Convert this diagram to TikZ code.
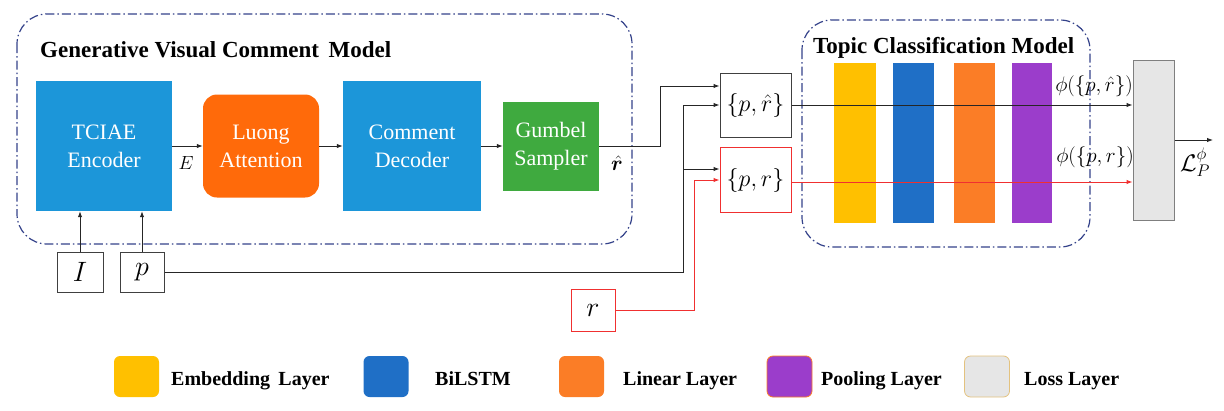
\RequirePackage{fix-cm}
\documentclass[tikz,border=0pt]{standalone}
\usepackage{fontspec}
\setmainfont{Liberation Serif}
\usepackage{bm}
\usetikzlibrary{arrows.meta,calc}
\definecolor{encblue}{HTML}{1C96D9}
\definecolor{luongor}{HTML}{FF6A0A}
\definecolor{gumgreen}{HTML}{3FAA3F}
\definecolor{navy}{HTML}{34428A}
\definecolor{embyel}{HTML}{FFC000}
\definecolor{lstmblue}{HTML}{1F6FC6}
\definecolor{linor}{HTML}{FB7D26}
\definecolor{poolpur}{HTML}{9B3DCB}
\definecolor{lossgray}{HTML}{E6E6E6}
\definecolor{lossedge}{HTML}{7F7F7F}
\definecolor{legedge}{HTML}{E3C27F}
\definecolor{redline}{HTML}{F03030}
\tikzset{
  mainbox/.style={inner sep=0pt, align=center, text=white, font=\fontsize{22}{28}\selectfont},
  dashbox/.style={draw=navy, line width=1.2pt, rounded corners=30pt,
    dash pattern=on 9pt off 3pt on 1.5pt off 3pt},
  title/.style={inner sep=0pt, font=\fontsize{23}{28}\selectfont\bfseries},
  inbox/.style={draw=black!75, line width=1pt, inner sep=0pt, font=\fontsize{28}{32}\selectfont},
  pairbox/.style={draw=black!75, line width=1pt, inner sep=0pt, font=\fontsize{24}{28}\selectfont},
  bar/.style={inner sep=0pt, minimum height=160pt},
  arr/.style={draw=black!85, line width=1pt, -{Latex[length=6pt,width=4.5pt]}},
  redarr/.style={draw=redline, line width=1pt, -{Latex[length=6pt,width=4.5pt]}},
  lbl/.style={inner sep=0pt, font=\fontsize{21}{24}\selectfont},
  legsq/.style={inner sep=0pt, minimum width=45pt, minimum height=41pt, rounded corners=6pt, line width=0.8pt},
  legtxt/.style={inner sep=0pt, anchor=base west, font=\fontsize{20}{24}\selectfont\bfseries}
}
\begin{document}
\begin{tikzpicture}[x=1pt,y=-1pt]
\useasboundingbox (0,0) rectangle (1224,410);

% dashed frames
\draw[dashbox] (17,14) rectangle (632,244);
\draw[dashbox] (802,20) rectangle (1090,247);
\node[title, anchor=base west] (gtitle) at (40,57) {Generative Visual Comment\ \,Model};
\node[title, anchor=base west] (ttitle) at (813,53) {Topic Classification Model};

% generator blocks
\node[mainbox, fill=encblue, minimum width=136pt, minimum height=130pt] (enc) at (104,146) {TCIAE\\Encoder};
\node[mainbox, fill=luongor, minimum width=116pt, minimum height=103pt, rounded corners=14pt] (luong) at (261,146) {Luong\\Attention};
\node[mainbox, fill=encblue, minimum width=138pt, minimum height=130pt] (dec) at (412,146) {Comment\\Decoder};
\node[mainbox, fill=gumgreen, minimum width=96pt, minimum height=89pt] (gum) at (551,146) {Gumbel\\Sampler};
\node[lbl, font=\fontsize{19}{22}\selectfont] (elbl) at (186,163) {$E$};
\node[lbl, font=\fontsize{21}{24}\selectfont] (rhlbl) at (617,163) {$\hat{\bm r}$};

% inputs
\node[inbox, minimum width=46pt, minimum height=40pt] (I) at (80,272) {$I$};
\node[inbox, minimum width=44pt, minimum height=40pt] (p) at (142,272) {$p$};
\node[inbox, draw=redline, minimum width=44pt, minimum height=42pt] (r) at (593,310) {$r$};

% pairs
\node[pairbox, minimum width=71pt, minimum height=64pt] (prh) at (755.5,105) {$\{p,\hat r\}$};
\node[pairbox, draw=redline, minimum width=71pt, minimum height=65pt] (pr) at (755.5,180) {$\{p,r\}$};

% classifier bars
\node[bar, fill=embyel, minimum width=42pt] (b1) at (855,143) {};
\node[bar, fill=lstmblue, minimum width=41pt] (b2) at (913.5,143) {};
\node[bar, fill=linor, minimum width=41pt] (b3) at (974.5,143) {};
\node[bar, fill=poolpur, minimum width=40pt] (b4) at (1032,143) {};

% loss
\node[draw=lossedge, fill=lossgray, line width=1pt, minimum width=41pt, minimum height=160pt, inner sep=0pt] (loss) at (1153.5,140) {};

% connectors
\draw[arr] (enc.east) -- (luong.west);
\draw[arr] (luong.east) -- (dec.west);
\draw[arr] (dec.east) -- (gum.west);
\draw[arr] (gum.east) -- ++(61,0) |- ([yshift=19pt]prh.west);
\draw[arr] (I.north) -- (I.north |- enc.south);
\draw[arr] (p.north) -- (p.north |- enc.south);
\coordinate (pj) at (683,272);
\coordinate (pb) at (683,169);
\draw[arr] (p.east) -- (pj) |- (prh.west);
\draw[arr] (pb) -- (pb -| pr.west);
\draw[redarr] (r.east) -- (694,310) |- (pr.west);
\draw[arr] (prh.east) -- (prh.east -| loss.west);
\draw[redarr] ([yshift=-2pt]pr.east) -- ([yshift=-2pt]pr.east -| loss.west);
\coordinate (out) at (1213,140);
\draw[arr] (loss.east) -- (out);

% output labels
\node[lbl] (phi1) at (1094,86) {$\phi(\{p,\hat r\})$};
\node[lbl] (phi2) at (1095,157) {$\phi(\{p,r\})$};
\node[lbl, font=\fontsize{24}{28}\selectfont] (loutl) at (1195,162) {$\mathcal{L}_P^{\phi}$};

% legend
\node[legsq, fill=embyel] (l1) at (136.5,376.5) {};
\node[legtxt] (t1) at (171,385) {Embedding\ \,Layer};
\node[legsq, fill=lstmblue] (l2) at (386,376.5) {};
\node[legtxt] (t2) at (435,385) {BiLSTM};
\node[legsq, fill=linor] (l3) at (581.5,376.5) {};
\node[legtxt] (t3) at (623,385) {Linear Layer};
\node[legsq, fill=poolpur, draw=linor] (l4) at (789.5,376.5) {};
\node[legtxt] (t4) at (821,385) {Pooling Layer};
\node[legsq, fill=lossgray, draw=legedge] (l5) at (987,376.5) {};
\node[legtxt] (t5) at (1024,385) {Loss Layer};
\end{tikzpicture}
\end{document}
